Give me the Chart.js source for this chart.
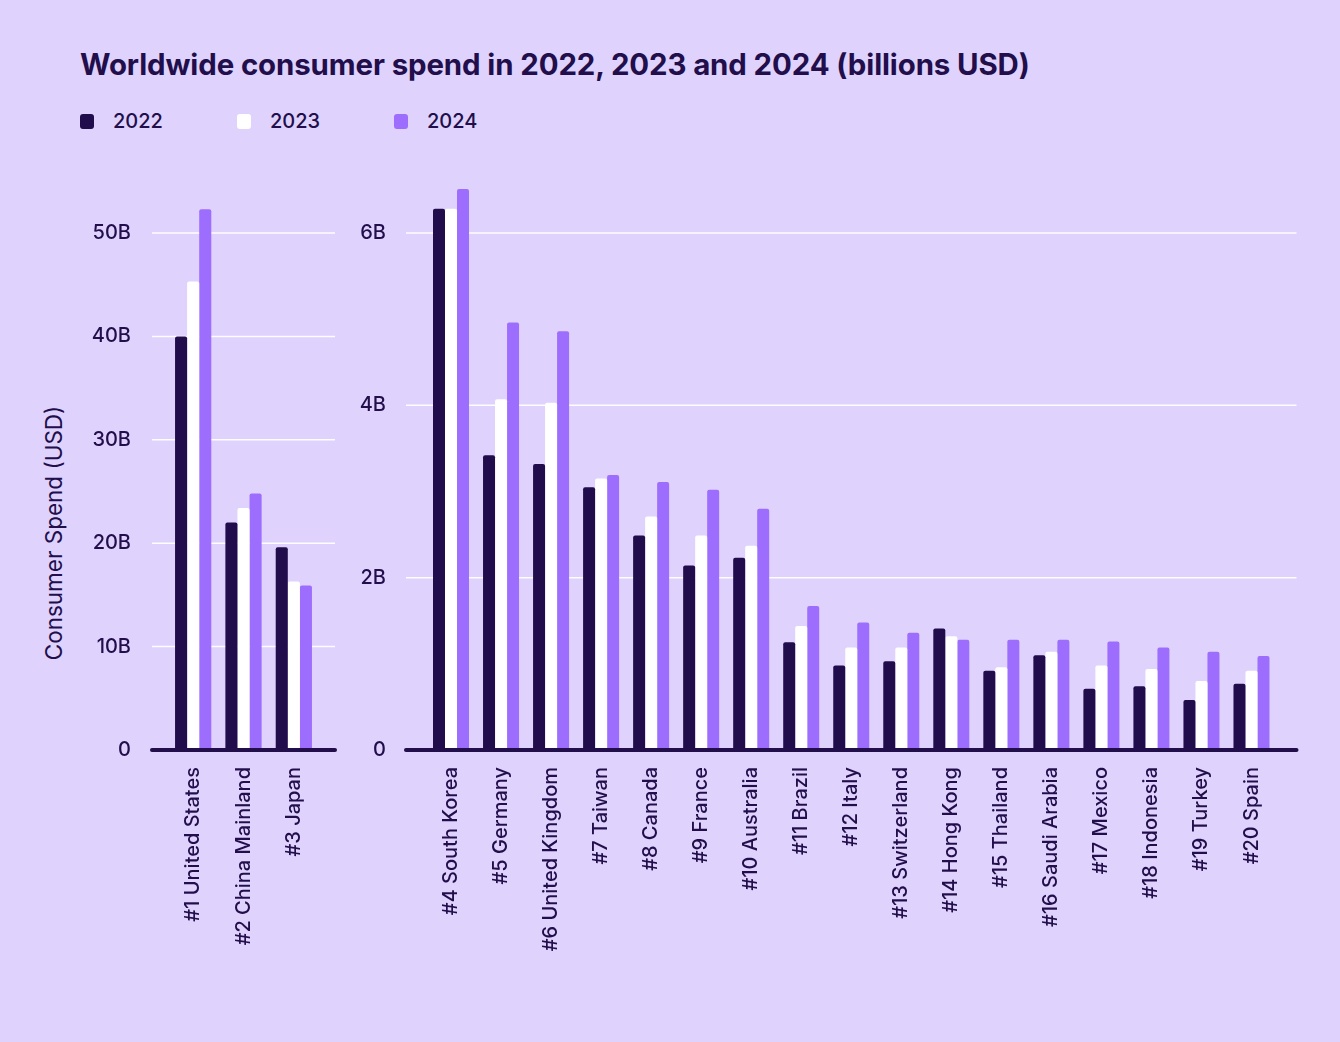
<!DOCTYPE html>
<html lang="en">
<head>
<meta charset="utf-8">
<title>Worldwide consumer spend</title>
<script src="https://cdn.jsdelivr.net/npm/chart.js@4.4.1/dist/chart.umd.min.js"></script>
<style>
    body {
        margin: 0;
        width: 1340px;
        height: 1042px;
        background: #DFD3FE;
        font-family: Inter, "Noto Sans", sans-serif;
        color: #210E4B;
        position: relative;
        overflow: hidden;
    }
    .titulo {
        position: absolute;
        left: 80px;
        top: 47px;
        font-size: 29.4px;
        font-weight: 700;
        line-height: 36px;
        letter-spacing: -0.1px;
        white-space: nowrap;
    }
    .leyenda {
        position: absolute;
        top: 108px;
        left: 80px;
        display: flex;
        font-size: 20px;
        font-weight: 500;
        line-height: 26px;
    }
    .leyenda-item {
        display: flex;
        align-items: center;
        width: 157px;
    }
    .leyenda-item span.caja {
        width: 14px;
        height: 15px;
        border-radius: 3px;
        margin-right: 19px;
    }
    .eje-titulo {
        position: absolute;
        left: 53px;
        top: 533px;
        transform: translate(-50%, -50%) rotate(-90deg);
        font-size: 22.5px;
        white-space: nowrap;
    }
    .panel {
        position: absolute;
        top: 150px;
    }
</style>
</head>
<body>
<div class="titulo">Worldwide consumer spend in 2022, 2023 and 2024 (billions USD)</div>
<div class="leyenda" id="leyenda"></div>
<div class="eje-titulo">Consumer Spend (USD)</div>
<div class="panel" style="left:0; width:345px; height:850px;"><canvas id="graficoTop"></canvas></div>
<div class="panel" style="left:345px; width:995px; height:850px;"><canvas id="graficoResto"></canvas></div>

<script>
// Datos (miles de millones USD)
const anios = ['2022', '2023', '2024'];
const coloresAnio = ['#210D4B', '#FFFFFF', '#9D6EFD'];

const paisesTop = ['#1 United States', '#2 China Mainland', '#3 Japan'];
const top2022 = [40.0, 22.0, 19.6];
const top2023 = [45.3, 23.4, 16.3];
const top2024 = [52.3, 24.8, 15.9];
const ticksTop = [0, 10, 20, 30, 40, 50];

const paisesResto = ['#4 South Korea', '#5 Germany', '#6 United Kingdom', '#7 Taiwan', '#8 Canada',
    '#9 France', '#10 Australia', '#11 Brazil', '#12 Italy', '#13 Switzerland', '#14 Hong Kong',
    '#15 Thailand', '#16 Saudi Arabia', '#17 Mexico', '#18 Indonesia', '#19 Turkey', '#20 Spain'];
const resto2022 = [6.28, 3.42, 3.32, 3.05, 2.49, 2.14, 2.23, 1.25, 0.98, 1.03, 1.41, 0.92, 1.10, 0.71, 0.74, 0.58, 0.77];
const resto2023 = [6.28, 4.07, 4.03, 3.15, 2.71, 2.49, 2.37, 1.44, 1.19, 1.19, 1.32, 0.96, 1.14, 0.98, 0.94, 0.80, 0.92];
const resto2024 = [6.51, 4.96, 4.86, 3.19, 3.11, 3.02, 2.80, 1.67, 1.48, 1.36, 1.28, 1.28, 1.28, 1.26, 1.19, 1.14, 1.09];
const ticksResto = [0, 2, 4, 6];

const colorTexto = '#210E4B';

// Leyenda
document.getElementById('leyenda').innerHTML = anios.map((a, i) => `
    <div class="leyenda-item"><span class="caja" style="background:${coloresAnio[i]}"></span>${a}</div>
`).join('');

// Líneas de cuadrícula y eje que sobresalen del área del gráfico
const lineasExtendidas = {
    id: 'lineasExtendidas',
    beforeDatasetsDraw(chart, args, opts) {
        const { ctx, chartArea, scales: { y } } = chart;
        ctx.save();
        ctx.strokeStyle = 'rgba(255, 255, 255, 0.95)';
        ctx.lineWidth = 1.5;
        y.ticks.forEach(t => {
            if (t.value === 0) return;
            const py = y.getPixelForValue(t.value);
            ctx.beginPath();
            ctx.moveTo(chartArea.left - opts.extIzq, py);
            ctx.lineTo(chartArea.right + opts.extDer, py);
            ctx.stroke();
        });
        ctx.restore();
    },
    afterDatasetsDraw(chart, args, opts) {
        const { ctx, chartArea, scales: { y } } = chart;
        const py = y.getPixelForValue(0);
        ctx.save();
        ctx.strokeStyle = colorTexto;
        ctx.lineWidth = 4;
        ctx.lineCap = 'round';
        ctx.beginPath();
        ctx.moveTo(chartArea.left - opts.extIzq, py);
        ctx.lineTo(chartArea.right + opts.extDer, py);
        ctx.stroke();
        ctx.restore();
    }
};

function crearGrafico(id, etiquetas, series, ticks, maximo, conf) {
    const ctx = document.getElementById(id).getContext('2d');
    return new Chart(ctx, {
        type: 'bar',
        data: {
            labels: etiquetas,
            datasets: series.map((datos, i) => ({
                label: anios[i],
                data: datos,
                backgroundColor: coloresAnio[i],
                borderRadius: 2,
                borderSkipped: 'start',
                categoryPercentage: 0.72,
                barPercentage: 1
            }))
        },
        options: {
            responsive: true,
            maintainAspectRatio: false,
            animation: false,
            layout: { padding: { top: 30, right: conf.derecha, bottom: 0, left: 0 } },
            plugins: {
                legend: { display: false },
                tooltip: { enabled: false },
                lineasExtendidas: { extIzq: conf.extIzq, extDer: conf.extDer }
            },
            scales: {
                x: {
                    grid: { display: false, drawTicks: false },
                    border: { display: false },
                    ticks: {
                        color: colorTexto,
                        font: { family: 'Inter', size: 20, weight: '500' },
                        minRotation: 90,
                        maxRotation: 90,
                        autoSkip: false,
                        padding: 17
                    },
                    afterFit: s => { s.height = 250; }
                },
                y: {
                    min: 0,
                    max: maximo,
                    // el hueco entre etiqueta y área se da con tickLength para no empujar el área hacia abajo
                    grid: { display: false, drawTicks: true, tickLength: conf.hueco },
                    border: { display: false },
                    afterBuildTicks: s => { s.ticks = ticks.map(v => ({ value: v })); },
                    ticks: {
                        color: colorTexto,
                        font: { family: 'Inter', size: 20, weight: '500' },
                        padding: 0,
                        callback: v => v === 0 ? '0' : v + 'B'
                    },
                    afterFit: s => { s.width = conf.anchoEje; }
                }
            }
        },
        plugins: [lineasExtendidas]
    });
}

crearGrafico('graficoTop', paisesTop, [top2022, top2023, top2024], ticksTop, 570 / 10.34,
    { derecha: 26, anchoEje: 168, hueco: 37, extIzq: 16, extDer: 16 });

crearGrafico('graficoResto', paisesResto, [resto2022, resto2023, resto2024], ticksResto, 570 / 86.17,
    { derecha: 63.5, anchoEje: 81, hueco: 40, extIzq: 20, extDer: 20 });
</script>
</body>
</html>
